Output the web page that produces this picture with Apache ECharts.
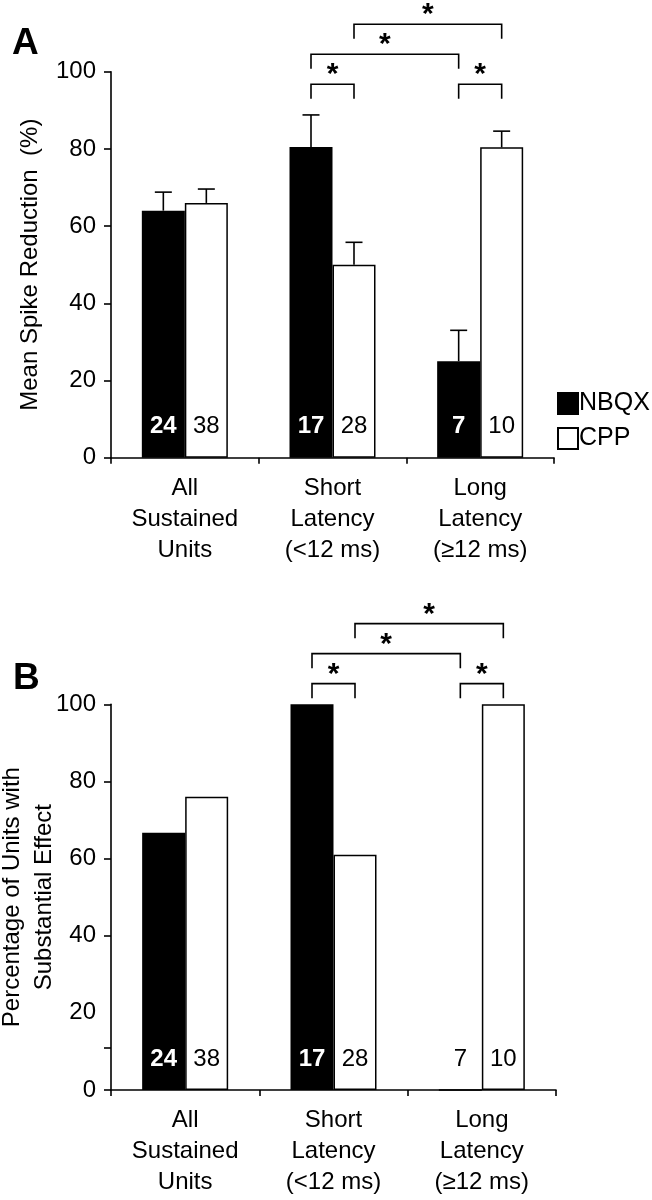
<!DOCTYPE html>
<html>
<head>
<meta charset="utf-8">
<script src="https://cdn.jsdelivr.net/npm/echarts@6/dist/echarts.min.js"></script>
<style>html,body{margin:0;padding:0;background:#fff}#c{width:652px;height:1200px}</style>
</head>
<body>
<div id="c"></div>
<script>
// ---- data ----
const categories = ['All\nSustained\nUnits', 'Short\nLatency\n(<12 ms)', 'Long\nLatency\n(\u226512 ms)'];
const seriesNames = ['NBQX', 'CPP'];
// Panel A: mean spike reduction (%)
const nbqxMeanA = [64, 80.5, 25];
const nbqxErrTopA = [68.8, 88.8, 33];
const cppMeanA = [66, 50, 80.4];
const cppErrTopA = [69.6, 55.8, 84.6];
// Panel B: percentage of units with substantial effect
const nbqxPctB = [66.7, 100, 0];
const cppPctB = [76, 61, 100];
// unit counts
const nbqxN = [24, 17, 7];
const cppN = [38, 28, 10];
// axis ticks
const yLabelsA = [0, 20, 40, 60, 80, 100];
const yLabelsB = [0, 20, 40, 60, 80, 100];
const yTickMarksB = [0, 11, 40, 60, 80, 100];
// significance brackets: [category1, series1, category2, series2, level]
const brackets = [[1, 0, 1, 1, 0], [2, 0, 2, 1, 0], [1, 0, 2, 0, 1], [1, 1, 2, 1, 2]];

// ---- styles ----
const FONT = 'Liberation Sans, Arial, sans-serif';
const BAR_W = 43;
const HALF = BAR_W / 2;

function barSeries(name, values, counts, gi, filled) {
  return {
    type: 'bar', name: name, xAxisIndex: gi, yAxisIndex: gi,
    barWidth: BAR_W, barGap: '0%',
    itemStyle: { color: filled ? '#000' : '#fff', borderColor: '#000', borderWidth: 1.5 },
    label: {
      show: true, position: 'insideBottom', distance: 19,
      fontFamily: FONT, fontSize: 24,
      color: filled ? '#fff' : '#000', fontWeight: filled ? 'bold' : 'normal',
      formatter: p => String(counts[p.dataIndex])
    },
    data: values.map(v => (v === 0 ? { value: v, label: { color: '#000', fontWeight: 'normal' } } : v)),
    z: 2
  };
}

function errSeries(gi, means, tops, sIdx) {
  return {
    type: 'custom', xAxisIndex: gi, yAxisIndex: gi, silent: true, z: 3,
    data: means.map((m, i) => [i, tops[i], m]),
    renderItem: function (params, api) {
      const x = api.coord([api.value(0), 0])[0] + (sIdx === 0 ? -HALF : HALF);
      const yT = api.coord([api.value(0), api.value(1)])[1];
      const yB = api.coord([api.value(0), api.value(2)])[1];
      const st = { stroke: '#000', lineWidth: 1.6 };
      return { type: 'group', children: [
        { type: 'line', shape: { x1: x, y1: yB, x2: x, y2: yT }, style: st },
        { type: 'line', shape: { x1: x - 8.5, y1: yT, x2: x + 8.5, y2: yT }, style: st }
      ]};
    }
  };
}

function bracketSeries(gi, baseVal) {
  return {
    type: 'custom', xAxisIndex: gi, yAxisIndex: gi, silent: true, clip: false, z: 4,
    data: brackets,
    renderItem: function (params, api) {
      const x1 = api.coord([api.value(0), 0])[0] + (api.value(1) === 0 ? -HALF : HALF);
      const x2 = api.coord([api.value(2), 0])[0] + (api.value(3) === 0 ? -HALF : HALF);
      const yb = api.coord([0, baseVal])[1] - api.value(4) * 30;
      const yt = yb - 14.5;
      return { type: 'group', children: [
        { type: 'polyline', shape: { points: [[x1, yb], [x1, yt], [x2, yt], [x2, yb]] },
          style: { stroke: '#000', lineWidth: 1.6, fill: null } },
        { type: 'text', style: { text: '*', x: (x1 + x2) / 2, y: yt - 9, align: 'center', verticalAlign: 'middle',
          font: 'bold 30px ' + FONT, fill: '#000' } }
      ]};
    }
  };
}

const axisLineStyle = { lineStyle: { color: '#000', width: 1.6 } };

const option = {
  animation: false,
  backgroundColor: '#fff',
  grid: [
    { left: 111, top: 71.7, width: 443, height: 386, outerBoundsMode: 'none', containLabel: false },
    { left: 111, top: 704.3, width: 445, height: 385.7, outerBoundsMode: 'none', containLabel: false }
  ],
  legend: {
    data: seriesNames, orient: 'vertical', left: 557, top: 391, padding: 0,
    itemWidth: 20, itemHeight: 21, itemGap: 10, icon: 'rect',
    textStyle: { fontFamily: FONT, fontSize: 25, color: '#000', padding: [0, 0, 0, -4] }
  },
  xAxis: [0, 1].map(gi => ({
    type: 'category', gridIndex: gi, data: categories,
    axisLine: axisLineStyle,
    axisTick: { show: true, length: 6, lineStyle: { color: '#000', width: 1.6 } },
    axisLabel: { interval: 0, fontFamily: FONT, fontSize: 24, lineHeight: 31, color: '#000', margin: 15 },
    splitLine: { show: false }
  })),
  yAxis: [
    {
      type: 'value', gridIndex: 0, min: 0, max: 100, interval: 20,
      name: 'Mean Spike Reduction  (%)', nameLocation: 'middle', nameGap: 69, nameMoveOverlap: false,
      nameTextStyle: { fontFamily: FONT, fontSize: 24, color: '#000' },
      axisLine: { show: true, lineStyle: { color: '#000', width: 1.6 } },
      axisTick: { show: true, length: 7, lineStyle: { color: '#000', width: 1.6 } },
      axisLabel: { fontFamily: FONT, fontSize: 24, color: '#000', margin: 15, customValues: yLabelsA },
      splitLine: { show: false }
    },
    {
      type: 'value', gridIndex: 1, min: 0, max: 100, interval: 20,
      name: 'Percentage of Units with\nSubstantial Effect', nameLocation: 'middle', nameGap: 51, nameMoveOverlap: false,
      nameTextStyle: { fontFamily: FONT, fontSize: 24, lineHeight: 32, color: '#000' },
      axisLine: { show: true, lineStyle: { color: '#000', width: 1.6 } },
      axisTick: { show: true, length: 7, lineStyle: { color: '#000', width: 1.6 }, customValues: yTickMarksB },
      axisLabel: { fontFamily: FONT, fontSize: 24, color: '#000', margin: 15, customValues: yLabelsB },
      splitLine: { show: false }
    }
  ],
  graphic: [
    { type: 'text', left: 12, top: 25, style: { text: 'A', font: 'bold 37px ' + FONT, fill: '#000' } },
    { type: 'text', left: 13, top: 660, style: { text: 'B', font: 'bold 37px ' + FONT, fill: '#000' } }
  ],
  series: [
    barSeries('NBQX', nbqxMeanA, nbqxN, 0, true),
    barSeries('CPP', cppMeanA, cppN, 0, false),
    errSeries(0, nbqxMeanA, nbqxErrTopA, 0),
    errSeries(0, cppMeanA, cppErrTopA, 1),
    bracketSeries(0, 93),
    barSeries('NBQX', nbqxPctB, nbqxN, 1, true),
    barSeries('CPP', cppPctB, cppN, 1, false),
    bracketSeries(1, 101.6)
  ]
};

const chart = echarts.init(document.getElementById('c'), null, { renderer: 'canvas' });
chart.setOption(option);
</script>
</body>
</html>
